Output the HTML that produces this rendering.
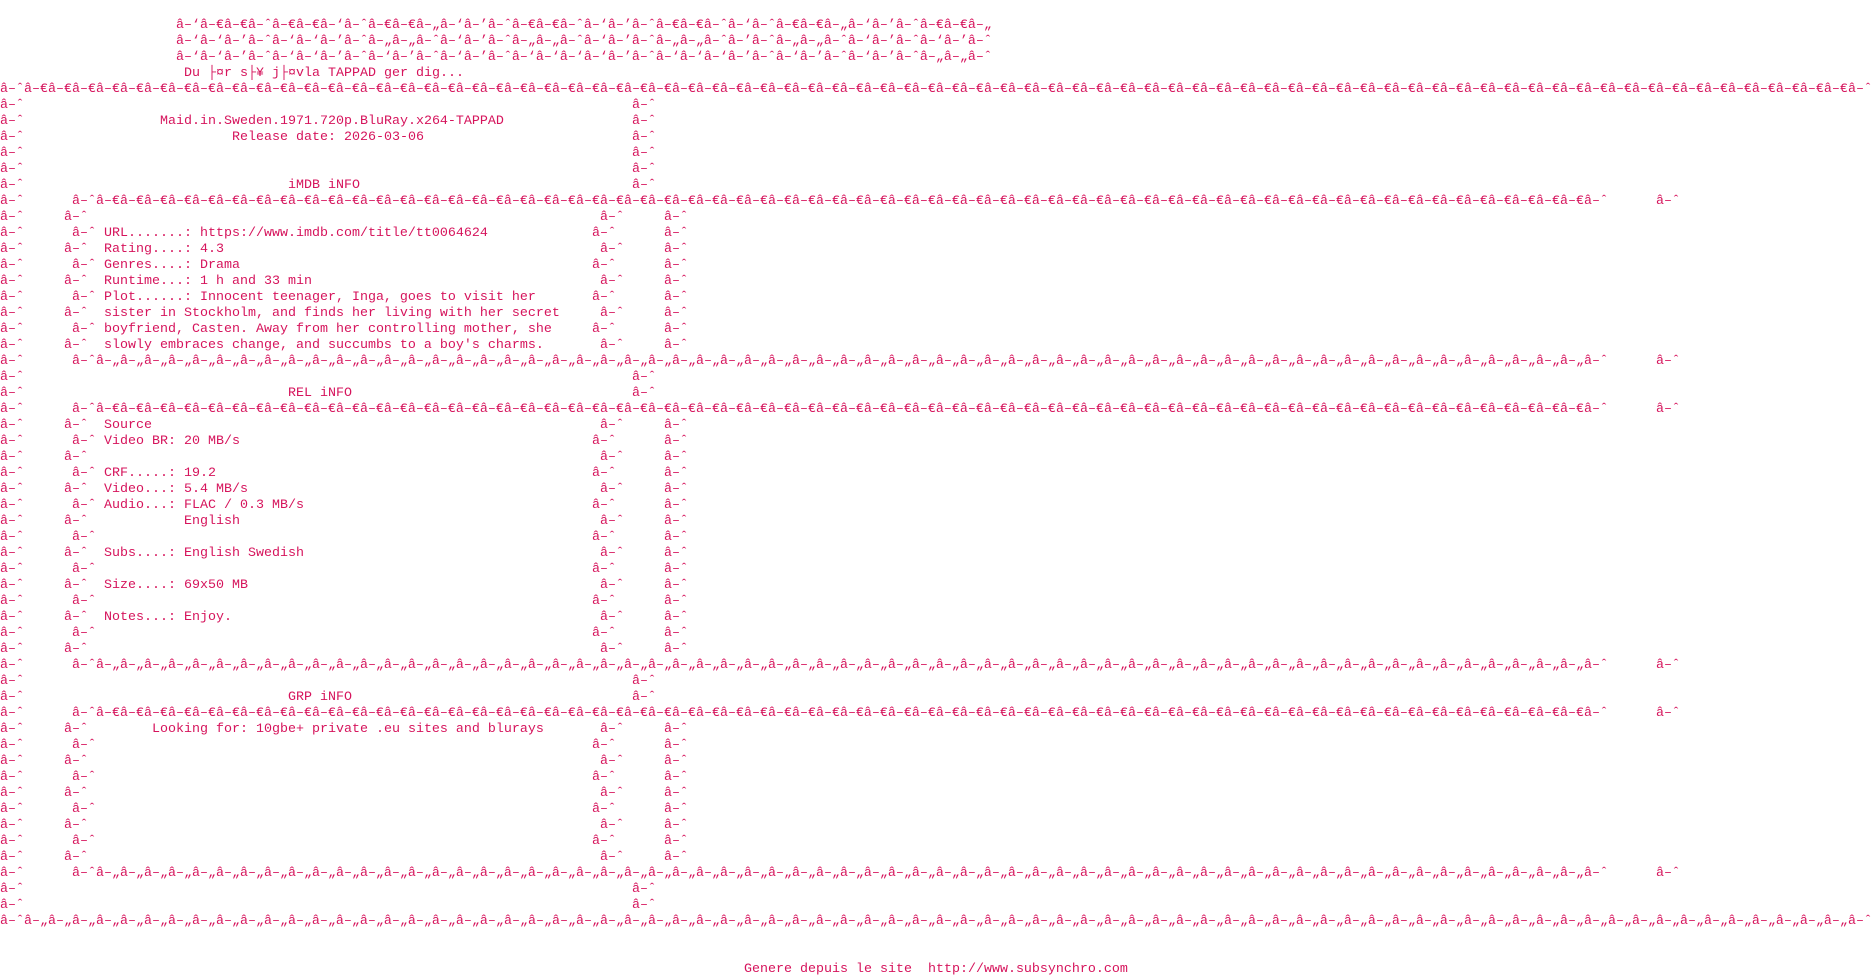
<!DOCTYPE html>
<html><head><meta charset="utf-8"><style>
html,body{margin:0;padding:0;background:#fff;width:1872px;height:976px;overflow:hidden}
body{position:relative;font-family:"Liberation Mono",monospace;font-size:13.333px;color:#d6145c}
div{position:absolute;left:0;height:16px;line-height:16px;white-space:pre;margin-top:2px}
span{position:absolute;top:0;white-space:pre}
</style></head><body>
<div style="top:16px"><span style="left:176px">â–‘â–€â–€â–ˆâ–€â–€â–‘â–ˆâ–€â–€â–„â–‘â–’â–ˆâ–€â–€â–ˆâ–‘â–’â–ˆâ–€â–€â–ˆâ–‘â–ˆâ–€â–€â–„â–‘â–’â–ˆâ–€â–€â–„</span></div>
<div style="top:32px"><span style="left:176px">â–‘â–‘â–’â–ˆâ–‘â–‘â–’â–ˆâ–„â–„â–ˆâ–‘â–’â–ˆâ–„â–„â–ˆâ–‘â–’â–ˆâ–„â–„â–ˆâ–’â–ˆâ–„â–„â–ˆâ–‘â–’â–ˆâ–‘â–’â–ˆ</span></div>
<div style="top:48px"><span style="left:176px">â–‘â–‘â–’â–ˆâ–‘â–‘â–’â–ˆâ–‘â–’â–ˆâ–‘â–’â–ˆâ–‘â–‘â–‘â–‘â–’â–ˆâ–‘â–‘â–‘â–’â–ˆâ–‘â–’â–ˆâ–‘â–’â–ˆâ–„â–„â–ˆ</span></div>
<div style="top:64px"><span style="left:184px">Du ├¤r s├¥ j├¤vla TAPPAD ger dig...</span></div>

<div style="top:80px"><span style="left:0">â–ˆ</span><span style="left:24px">â–€â–€â–€â–€â–€â–€â–€â–€â–€â–€â–€â–€â–€â–€â–€â–€â–€â–€â–€â–€</span><span style="left:504px">â–€â–€â–€â–€â–€â–€â–€â–€â–€â–€â–€â–€â–€â–€â–€â–€â–€â–€â–€â–€</span><span style="left:984px">â–€â–€â–€â–€â–€â–€â–€â–€â–€â–€â–€â–€â–€â–€â–€â–€â–€â–€â–€â–€</span><span style="left:1464px">â–€â–€â–€â–€â–€â–€â–€â–€â–€â–€â–€â–€â–€â–€â–€â–€</span><span style="left:1848px">â–ˆ</span></div>

<div style="top:96px"><span style="left:0">â–ˆ</span><span style="left:632px">â–ˆ</span></div>
<div style="top:112px"><span style="left:0">â–ˆ</span><span style="left:160px">Maid.in.Sweden.1971.720p.BluRay.x264-TAPPAD</span><span style="left:632px">â–ˆ</span></div>
<div style="top:128px"><span style="left:0">â–ˆ</span><span style="left:232px">Release date: 2026-03-06</span><span style="left:632px">â–ˆ</span></div>
<div style="top:144px"><span style="left:0">â–ˆ</span><span style="left:632px">â–ˆ</span></div>
<div style="top:160px"><span style="left:0">â–ˆ</span><span style="left:632px">â–ˆ</span></div>
<div style="top:176px"><span style="left:0">â–ˆ</span><span style="left:288px">iMDB iNFO</span><span style="left:632px">â–ˆ</span></div>

<div style="top:192px"><span style="left:0">â–ˆ</span><span style="left:72px">â–ˆ</span><span style="left:96px">â–€â–€â–€â–€â–€â–€â–€â–€â–€â–€â–€â–€â–€â–€â–€â–€â–€â–€â–€â–€</span><span style="left:576px">â–€â–€â–€â–€â–€â–€â–€â–€â–€â–€â–€â–€â–€â–€â–€â–€â–€â–€â–€â–€</span><span style="left:1056px">â–€â–€â–€â–€â–€â–€â–€â–€â–€â–€â–€â–€â–€â–€â–€â–€â–€â–€â–€â–€</span><span style="left:1536px">â–€â–€</span><span style="left:1584px">â–ˆ</span><span style="left:1656px">â–ˆ</span></div>

<div style="top:208px"><span style="left:0">â–ˆ</span><span style="left:64px">â–ˆ</span><span style="left:600px">â–ˆ</span><span style="left:664px">â–ˆ</span></div>
<div style="top:224px"><span style="left:0">â–ˆ</span><span style="left:72px">â–ˆ</span><span style="left:104px">URL.......: https://www.imdb.com/title/tt0064624</span><span style="left:592px">â–ˆ</span><span style="left:664px">â–ˆ</span></div>
<div style="top:240px"><span style="left:0">â–ˆ</span><span style="left:64px">â–ˆ</span><span style="left:104px">Rating....: 4.3</span><span style="left:600px">â–ˆ</span><span style="left:664px">â–ˆ</span></div>
<div style="top:256px"><span style="left:0">â–ˆ</span><span style="left:72px">â–ˆ</span><span style="left:104px">Genres....: Drama</span><span style="left:592px">â–ˆ</span><span style="left:664px">â–ˆ</span></div>
<div style="top:272px"><span style="left:0">â–ˆ</span><span style="left:64px">â–ˆ</span><span style="left:104px">Runtime...: 1 h and 33 min</span><span style="left:600px">â–ˆ</span><span style="left:664px">â–ˆ</span></div>
<div style="top:288px"><span style="left:0">â–ˆ</span><span style="left:72px">â–ˆ</span><span style="left:104px">Plot......: Innocent teenager, Inga, goes to visit her</span><span style="left:592px">â–ˆ</span><span style="left:664px">â–ˆ</span></div>
<div style="top:304px"><span style="left:0">â–ˆ</span><span style="left:64px">â–ˆ</span><span style="left:104px">sister in Stockholm, and finds her living with her secret</span><span style="left:600px">â–ˆ</span><span style="left:664px">â–ˆ</span></div>
<div style="top:320px"><span style="left:0">â–ˆ</span><span style="left:72px">â–ˆ</span><span style="left:104px">boyfriend, Casten. Away from her controlling mother, she</span><span style="left:592px">â–ˆ</span><span style="left:664px">â–ˆ</span></div>
<div style="top:336px"><span style="left:0">â–ˆ</span><span style="left:64px">â–ˆ</span><span style="left:104px">slowly embraces change, and succumbs to a boy's charms.</span><span style="left:600px">â–ˆ</span><span style="left:664px">â–ˆ</span></div>

<div style="top:352px"><span style="left:0">â–ˆ</span><span style="left:72px">â–ˆ</span><span style="left:96px">â–„â–„â–„â–„â–„â–„â–„â–„â–„â–„â–„â–„â–„â–„â–„â–„â–„â–„â–„â–„</span><span style="left:576px">â–„â–„â–„â–„â–„â–„â–„â–„â–„â–„â–„â–„â–„â–„â–„â–„â–„â–„â–„â–„</span><span style="left:1056px">â–„â–„â–„â–„â–„â–„â–„â–„â–„â–„â–„â–„â–„â–„â–„â–„â–„â–„â–„â–„</span><span style="left:1536px">â–„â–„</span><span style="left:1584px">â–ˆ</span><span style="left:1656px">â–ˆ</span></div>

<div style="top:368px"><span style="left:0">â–ˆ</span><span style="left:632px">â–ˆ</span></div>
<div style="top:384px"><span style="left:0">â–ˆ</span><span style="left:288px">REL iNFO</span><span style="left:632px">â–ˆ</span></div>

<div style="top:400px"><span style="left:0">â–ˆ</span><span style="left:72px">â–ˆ</span><span style="left:96px">â–€â–€â–€â–€â–€â–€â–€â–€â–€â–€â–€â–€â–€â–€â–€â–€â–€â–€â–€â–€</span><span style="left:576px">â–€â–€â–€â–€â–€â–€â–€â–€â–€â–€â–€â–€â–€â–€â–€â–€â–€â–€â–€â–€</span><span style="left:1056px">â–€â–€â–€â–€â–€â–€â–€â–€â–€â–€â–€â–€â–€â–€â–€â–€â–€â–€â–€â–€</span><span style="left:1536px">â–€â–€</span><span style="left:1584px">â–ˆ</span><span style="left:1656px">â–ˆ</span></div>

<div style="top:416px"><span style="left:0">â–ˆ</span><span style="left:64px">â–ˆ</span><span style="left:104px">Source</span><span style="left:600px">â–ˆ</span><span style="left:664px">â–ˆ</span></div>
<div style="top:432px"><span style="left:0">â–ˆ</span><span style="left:72px">â–ˆ</span><span style="left:104px">Video BR: 20 MB/s</span><span style="left:592px">â–ˆ</span><span style="left:664px">â–ˆ</span></div>
<div style="top:448px"><span style="left:0">â–ˆ</span><span style="left:64px">â–ˆ</span><span style="left:600px">â–ˆ</span><span style="left:664px">â–ˆ</span></div>
<div style="top:464px"><span style="left:0">â–ˆ</span><span style="left:72px">â–ˆ</span><span style="left:104px">CRF.....: 19.2</span><span style="left:592px">â–ˆ</span><span style="left:664px">â–ˆ</span></div>
<div style="top:480px"><span style="left:0">â–ˆ</span><span style="left:64px">â–ˆ</span><span style="left:104px">Video...: 5.4 MB/s</span><span style="left:600px">â–ˆ</span><span style="left:664px">â–ˆ</span></div>
<div style="top:496px"><span style="left:0">â–ˆ</span><span style="left:72px">â–ˆ</span><span style="left:104px">Audio...: FLAC / 0.3 MB/s</span><span style="left:592px">â–ˆ</span><span style="left:664px">â–ˆ</span></div>
<div style="top:512px"><span style="left:0">â–ˆ</span><span style="left:64px">â–ˆ</span><span style="left:184px">English</span><span style="left:600px">â–ˆ</span><span style="left:664px">â–ˆ</span></div>
<div style="top:528px"><span style="left:0">â–ˆ</span><span style="left:72px">â–ˆ</span><span style="left:592px">â–ˆ</span><span style="left:664px">â–ˆ</span></div>
<div style="top:544px"><span style="left:0">â–ˆ</span><span style="left:64px">â–ˆ</span><span style="left:104px">Subs....: English Swedish</span><span style="left:600px">â–ˆ</span><span style="left:664px">â–ˆ</span></div>
<div style="top:560px"><span style="left:0">â–ˆ</span><span style="left:72px">â–ˆ</span><span style="left:592px">â–ˆ</span><span style="left:664px">â–ˆ</span></div>
<div style="top:576px"><span style="left:0">â–ˆ</span><span style="left:64px">â–ˆ</span><span style="left:104px">Size....: 69x50 MB</span><span style="left:600px">â–ˆ</span><span style="left:664px">â–ˆ</span></div>
<div style="top:592px"><span style="left:0">â–ˆ</span><span style="left:72px">â–ˆ</span><span style="left:592px">â–ˆ</span><span style="left:664px">â–ˆ</span></div>
<div style="top:608px"><span style="left:0">â–ˆ</span><span style="left:64px">â–ˆ</span><span style="left:104px">Notes...: Enjoy.</span><span style="left:600px">â–ˆ</span><span style="left:664px">â–ˆ</span></div>
<div style="top:624px"><span style="left:0">â–ˆ</span><span style="left:72px">â–ˆ</span><span style="left:592px">â–ˆ</span><span style="left:664px">â–ˆ</span></div>
<div style="top:640px"><span style="left:0">â–ˆ</span><span style="left:64px">â–ˆ</span><span style="left:600px">â–ˆ</span><span style="left:664px">â–ˆ</span></div>

<div style="top:656px"><span style="left:0">â–ˆ</span><span style="left:72px">â–ˆ</span><span style="left:96px">â–„â–„â–„â–„â–„â–„â–„â–„â–„â–„â–„â–„â–„â–„â–„â–„â–„â–„â–„â–„</span><span style="left:576px">â–„â–„â–„â–„â–„â–„â–„â–„â–„â–„â–„â–„â–„â–„â–„â–„â–„â–„â–„â–„</span><span style="left:1056px">â–„â–„â–„â–„â–„â–„â–„â–„â–„â–„â–„â–„â–„â–„â–„â–„â–„â–„â–„â–„</span><span style="left:1536px">â–„â–„</span><span style="left:1584px">â–ˆ</span><span style="left:1656px">â–ˆ</span></div>

<div style="top:672px"><span style="left:0">â–ˆ</span><span style="left:632px">â–ˆ</span></div>
<div style="top:688px"><span style="left:0">â–ˆ</span><span style="left:288px">GRP iNFO</span><span style="left:632px">â–ˆ</span></div>

<div style="top:704px"><span style="left:0">â–ˆ</span><span style="left:72px">â–ˆ</span><span style="left:96px">â–€â–€â–€â–€â–€â–€â–€â–€â–€â–€â–€â–€â–€â–€â–€â–€â–€â–€â–€â–€</span><span style="left:576px">â–€â–€â–€â–€â–€â–€â–€â–€â–€â–€â–€â–€â–€â–€â–€â–€â–€â–€â–€â–€</span><span style="left:1056px">â–€â–€â–€â–€â–€â–€â–€â–€â–€â–€â–€â–€â–€â–€â–€â–€â–€â–€â–€â–€</span><span style="left:1536px">â–€â–€</span><span style="left:1584px">â–ˆ</span><span style="left:1656px">â–ˆ</span></div>

<div style="top:720px"><span style="left:0">â–ˆ</span><span style="left:64px">â–ˆ</span><span style="left:152px">Looking for: 10gbe+ private .eu sites and blurays</span><span style="left:600px">â–ˆ</span><span style="left:664px">â–ˆ</span></div>
<div style="top:736px"><span style="left:0">â–ˆ</span><span style="left:72px">â–ˆ</span><span style="left:592px">â–ˆ</span><span style="left:664px">â–ˆ</span></div>
<div style="top:752px"><span style="left:0">â–ˆ</span><span style="left:64px">â–ˆ</span><span style="left:600px">â–ˆ</span><span style="left:664px">â–ˆ</span></div>
<div style="top:768px"><span style="left:0">â–ˆ</span><span style="left:72px">â–ˆ</span><span style="left:592px">â–ˆ</span><span style="left:664px">â–ˆ</span></div>
<div style="top:784px"><span style="left:0">â–ˆ</span><span style="left:64px">â–ˆ</span><span style="left:600px">â–ˆ</span><span style="left:664px">â–ˆ</span></div>
<div style="top:800px"><span style="left:0">â–ˆ</span><span style="left:72px">â–ˆ</span><span style="left:592px">â–ˆ</span><span style="left:664px">â–ˆ</span></div>
<div style="top:816px"><span style="left:0">â–ˆ</span><span style="left:64px">â–ˆ</span><span style="left:600px">â–ˆ</span><span style="left:664px">â–ˆ</span></div>
<div style="top:832px"><span style="left:0">â–ˆ</span><span style="left:72px">â–ˆ</span><span style="left:592px">â–ˆ</span><span style="left:664px">â–ˆ</span></div>
<div style="top:848px"><span style="left:0">â–ˆ</span><span style="left:64px">â–ˆ</span><span style="left:600px">â–ˆ</span><span style="left:664px">â–ˆ</span></div>

<div style="top:864px"><span style="left:0">â–ˆ</span><span style="left:72px">â–ˆ</span><span style="left:96px">â–„â–„â–„â–„â–„â–„â–„â–„â–„â–„â–„â–„â–„â–„â–„â–„â–„â–„â–„â–„</span><span style="left:576px">â–„â–„â–„â–„â–„â–„â–„â–„â–„â–„â–„â–„â–„â–„â–„â–„â–„â–„â–„â–„</span><span style="left:1056px">â–„â–„â–„â–„â–„â–„â–„â–„â–„â–„â–„â–„â–„â–„â–„â–„â–„â–„â–„â–„</span><span style="left:1536px">â–„â–„</span><span style="left:1584px">â–ˆ</span><span style="left:1656px">â–ˆ</span></div>

<div style="top:880px"><span style="left:0">â–ˆ</span><span style="left:632px">â–ˆ</span></div>
<div style="top:896px"><span style="left:0">â–ˆ</span><span style="left:632px">â–ˆ</span></div>

<div style="top:912px"><span style="left:0">â–ˆ</span><span style="left:24px">â–„â–„â–„â–„â–„â–„â–„â–„â–„â–„â–„â–„â–„â–„â–„â–„â–„â–„â–„â–„</span><span style="left:504px">â–„â–„â–„â–„â–„â–„â–„â–„â–„â–„â–„â–„â–„â–„â–„â–„â–„â–„â–„â–„</span><span style="left:984px">â–„â–„â–„â–„â–„â–„â–„â–„â–„â–„â–„â–„â–„â–„â–„â–„â–„â–„â–„â–„</span><span style="left:1464px">â–„â–„â–„â–„â–„â–„â–„â–„â–„â–„â–„â–„â–„â–„â–„â–„</span><span style="left:1848px">â–ˆ</span></div>

<div style="top:960px"><span style="left:744px">Genere depuis le site  http://www.subsynchro.com</span></div>
</body></html>
